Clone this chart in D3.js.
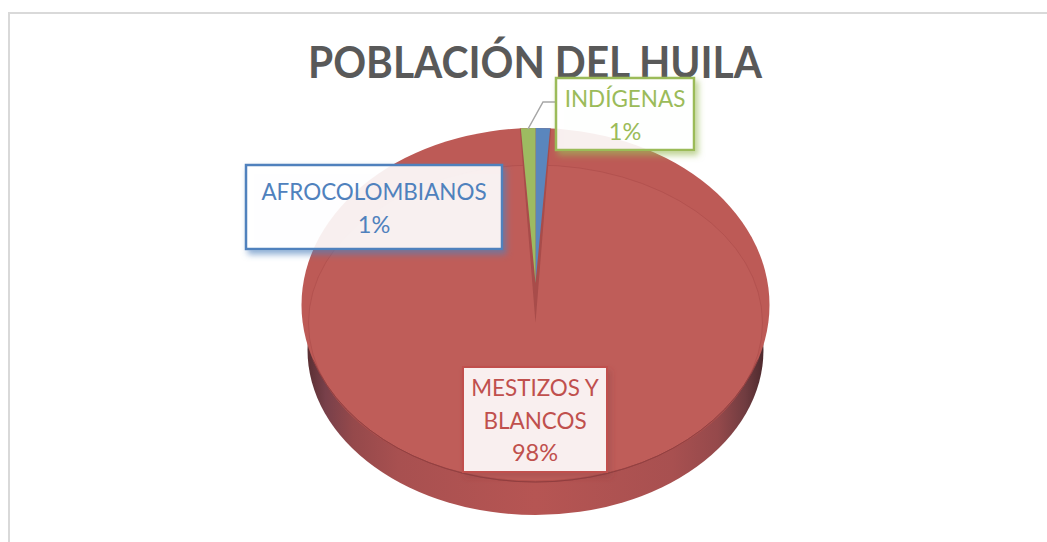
<!DOCTYPE html>
<html lang="es">
<head>
    <meta charset="UTF-8">
    <title>Población del Huila</title>
    <script src="https://d3js.org/d3.v7.min.js"></script>
    <style>
        html, body { margin: 0; padding: 0; background: #fff; overflow: hidden; }
        svg { display: block; }
        text { font-family: Lato, "Open Sans", sans-serif; }
        .title { font-size: 44px; font-weight: 700; fill: #595959; text-anchor: middle; }
        .label-text { font-size: 23.5px; text-anchor: middle; }
    </style>
</head>
<body>
<svg id="chart"></svg>
<script>
    // Chart data
    const categories = ["AFROCOLOMBIANOS", "MESTIZOS Y BLANCOS", "INDÍGENAS"];
    const values = [1, 98, 1];
    const percentLabels = ["1%", "98%", "1%"];
    const labelLines = [["AFROCOLOMBIANOS"], ["MESTIZOS Y", "BLANCOS"], ["INDÍGENAS"]];
    const sliceColors = ["#5a86bd", "#bd5c58", "#9dbb61"];
    const labelColors = ["#4f81bd", "#c0504d", "#9bbb59"];

    const svgWidth = 1047;
    const svgHeight = 542;

    const svg = d3.select("#chart").attr("width", svgWidth).attr("height", svgHeight);
    const defs = svg.append("defs");

    // Frame: only the top and left edges are inside the picture
    svg.append("line").attr("x1", 8).attr("x2", svgWidth).attr("y1", 13).attr("y2", 13)
        .attr("stroke", "#d9d9d9").attr("stroke-width", 2);
    svg.append("line").attr("x1", 9).attr("x2", 9).attr("y1", 12).attr("y2", svgHeight)
        .attr("stroke", "#d9d9d9").attr("stroke-width", 2);

    svg.append("text").attr("class", "title").attr("x", 535).attr("y", 78)
        .attr("textLength", 454).attr("lengthAdjust", "spacingAndGlyphs")
        .text("POBLACIÓN DEL HUILA");

    // Side gradient of the 3D disc
    const sideGradient = defs.append("linearGradient").attr("id", "side");
    [[0, "#5a2f33"], [0.04, "#78404a"], [0.1, "#95494b"], [0.2, "#a85050"], [0.5, "#b65553"], [0.8, "#a85050"], [0.9, "#95494b"], [0.96, "#703c40"], [1, "#4e2a2e"]]
        .forEach(s => sideGradient.append("stop").attr("offset", s[0]).attr("stop-color", s[1]));

    // Box shadow per label colour, kept outside the translucent box
    labelColors.forEach((color, i) => {
        const f = defs.append("filter").attr("id", "shadow" + i)
            .attr("x", "-10%").attr("y", "-15%").attr("width", "125%").attr("height", "135%");
        f.append("feGaussianBlur").attr("in", "SourceAlpha").attr("stdDeviation", 3).attr("result", "blur");
        f.append("feOffset").attr("in", "blur").attr("dx", 3).attr("dy", 4).attr("result", "off");
        f.append("feFlood").attr("flood-color", i === 1 ? "#7c3c3e" : color).attr("flood-opacity", i === 1 ? 0.3 : 0.7);
        f.append("feComposite").attr("in2", "off").attr("operator", "in").attr("result", "col");
        f.append("feComposite").attr("in", "col").attr("in2", "SourceAlpha").attr("operator", "out").attr("result", "outer");
        const m = f.append("feMerge");
        m.append("feMergeNode").attr("in", "outer");
        m.append("feMergeNode").attr("in", "SourceGraphic");
    });

    // Pie geometry
    const cx = 535.5;
    const rx = 234;
    const tau = 2 * Math.PI;
    const pie = d3.pie().sort(null);
    const slices = pie(values);
    const fullArc = d3.arc().innerRadius(0).outerRadius(rx).startAngle(0).endAngle(tau);

    // Draws something in a circle of radius rx squashed to an ellipse
    function squashed(cy, ry, r) {
        return svg.append("g")
            .attr("transform", "translate(" + cx + "," + cy + ") scale(" + (r || rx) / rx + "," + ry / rx + ")");
    }

    // Side wall
    squashed(350, 165, 228).append("path").attr("d", fullArc()).attr("fill", "url(#side)");

    // Bevelled rim and top face
    squashed(305, 177).append("path").attr("d", fullArc()).attr("fill", "#bd5a56");
    squashed(323, 158, 227).append("path").attr("d", fullArc()).attr("fill", "#bf5d59")
        .attr("stroke", "#ab4b49").attr("stroke-width", 1).attr("vector-effect", "non-scaling-stroke")
        .attr("stroke-opacity", 0.6);
    // Edge between rim and wall
    squashed(305, 177).append("path")
        .attr("d", d3.arc().innerRadius(rx).outerRadius(rx).startAngle(tau * 0.3).endAngle(tau * 0.7)())
        .attr("fill", "none").attr("stroke", "#8f3f40").attr("stroke-width", 1)
        .attr("vector-effect", "non-scaling-stroke").attr("stroke-opacity", 0.7);

    // Dark bevel under the two thin slices, apex at the real centre of the face
    const wedge = d3.arc().innerRadius(0).outerRadius(rx);
    squashed(323, 195).append("path")
        .attr("d", wedge({ startAngle: slices[2].startAngle - 0.004, endAngle: tau + slices[0].endAngle + 0.004 }))
        .attr("fill", "#a84c4a");

    // Thin slices
    const sliceGroup = squashed(283, 155);
    slices.forEach((s, i) => {
        if (i === 1) return;
        sliceGroup.append("path").attr("d", wedge(s)).attr("fill", sliceColors[i]);
    });

    // Leader line of INDÍGENAS
    svg.append("path")
        .attr("d", d3.line()([[528, 129], [543, 102], [557, 102]]))
        .attr("fill", "none").attr("stroke", "#a6a6a6").attr("stroke-width", 1.5);

    // Label boxes
    const labelBoxes = [
        { x: 246, y: 165, w: 256, h: 84, firstLine: 200 },
        { x: 463, y: 367, w: 144, h: 105, firstLine: 396 },
        { x: 556, y: 78, w: 138, h: 72, firstLine: 107 }
    ];
    const lineHeight = 32.5;

    categories.forEach((name, i) => {
        const b = labelBoxes[i];
        svg.append("rect")
            .attr("x", b.x).attr("y", b.y).attr("width", b.w).attr("height", b.h)
            .attr("fill", "#fff").attr("fill-opacity", 0.9)
            .attr("stroke", labelColors[i]).attr("stroke-width", i === 1 ? 2 : 2.5)
            .attr("filter", "url(#shadow" + i + ")");
        labelLines[i].forEach((line, k) => {
            const t = svg.append("text").attr("class", "label-text")
                .attr("x", b.x + b.w / 2).attr("y", b.firstLine + k * lineHeight)
                .attr("fill", labelColors[i]).text(line);
            // Lato runs a bit wider than the original font
            t.attr("textLength", t.node().getComputedTextLength() * 0.955).attr("lengthAdjust", "spacingAndGlyphs");
        });
        svg.append("text").attr("class", "label-text")
            .attr("x", b.x + b.w / 2).attr("y", b.firstLine + labelLines[i].length * lineHeight)
            .attr("fill", labelColors[i]).text(percentLabels[i]);
    });
</script>
</body>
</html>
